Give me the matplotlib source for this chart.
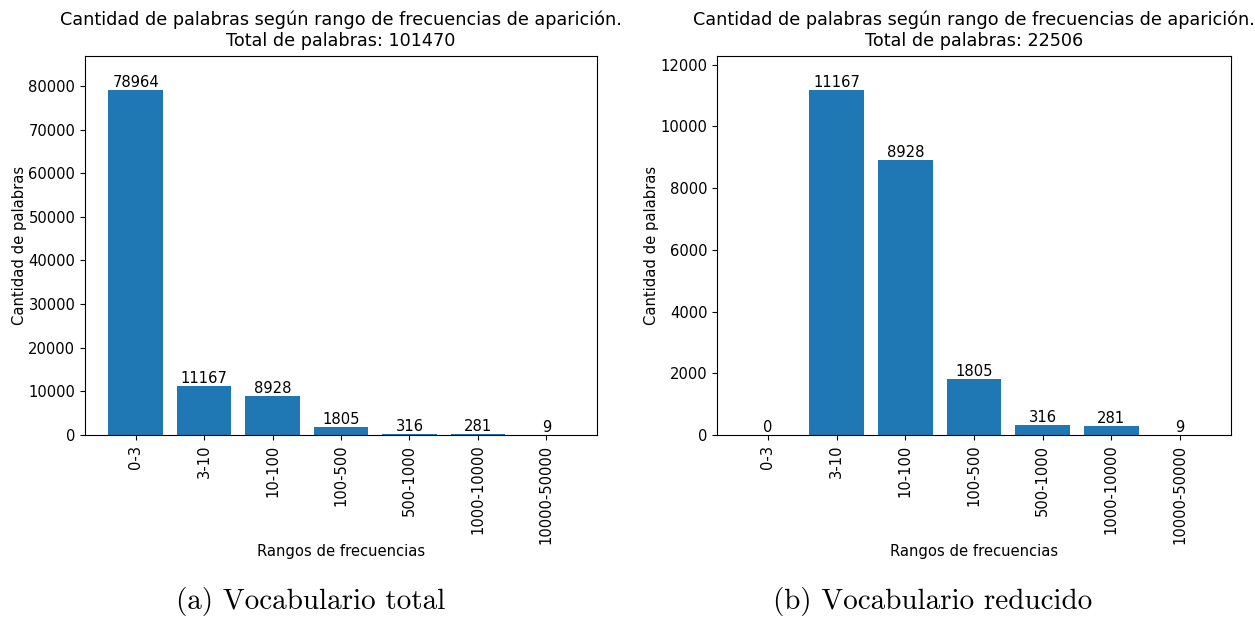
import matplotlib
matplotlib.use('Agg')
import matplotlib.pyplot as plt

rangos = ['0-3', '3-10', '10-100', '100-500', '500-1000', '1000-10000', '10000-50000']
vocab_total = [78964, 11167, 8928, 1805, 316, 281, 9]
vocab_reducido = [0, 11167, 8928, 1805, 316, 281, 9]
subtitulos = ['(a) Vocabulario total', '(b) Vocabulario reducido']

fig = plt.figure(figsize=(12.55, 6.19), dpi=100)

# posiciones de los ejes en pixeles (izq, abajo, ancho, alto)
W, H = 1255, 619
cajas = [(85, 184, 512, 379), (717, 184, 514, 379)]
centros = [311, 933]
fs = 10.6


def graficar(ax, valores):
    x = range(len(rangos))
    barras = ax.bar(x, valores, color='#1f77b4', width=0.8)
    ax.bar_label(barras, fontsize=fs)
    ax.set_xticks(list(x))
    ax.set_xticklabels(rangos, rotation=90, fontsize=fs)
    ax.tick_params(axis='y', labelsize=fs)
    ax.set_ylim(0, max(valores) * 1.1)
    ax.set_xlabel('Rangos de frecuencias', fontsize=fs, labelpad=0)
    ax.set_ylabel('Cantidad de palabras', fontsize=fs, labelpad=1)
    ax.set_title('Cantidad de palabras según rango de frecuencias de aparición.\n'
                 'Total de palabras: %d' % sum(valores), fontsize=12.7, pad=7)


for caja, valores, sub, cx in zip(cajas, [vocab_total, vocab_reducido], subtitulos, centros):
    ax = fig.add_axes([caja[0] / W, caja[1] / H, caja[2] / W, caja[3] / H])
    graficar(ax, valores)
    fig.text(cx / W, 1 - 602 / H, sub, ha='center', va='center',
             fontsize=21, family='cmr10')

fig.savefig('out.png', dpi=100)
